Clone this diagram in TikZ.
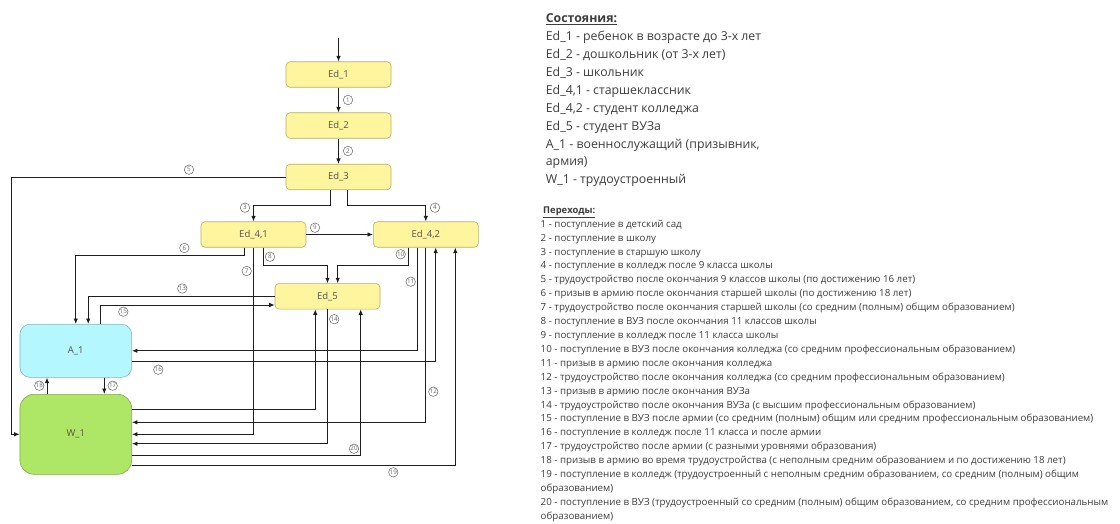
\documentclass[tikz,border=0pt]{standalone}
\usepackage{fontspec}
\setmainfont{Open Sans}
\usetikzlibrary{arrows.meta}
\definecolor{edfill}{HTML}{FFF59E}
\definecolor{edborder}{HTML}{B5AD6A}
\definecolor{afill}{HTML}{B5F7FF}
\definecolor{aborder}{HTML}{7DB6C0}
\definecolor{wfill}{HTML}{AEE765}
\definecolor{wborder}{HTML}{80A84C}
\definecolor{linec}{HTML}{1E1E1E}
\definecolor{lblc}{HTML}{666666}
\definecolor{nodetext}{HTML}{505050}
\definecolor{legtext}{HTML}{3C3C3C}
\begin{document}
\begin{tikzpicture}[x=1pt,y=-1pt,
  edbox/.style={draw=edborder, fill=edfill, rounded corners=4pt, minimum width=105pt, minimum height=25.5pt, inner sep=0pt, line width=0.6pt, font=\fontsize{9.5}{10}\selectfont, text=nodetext},
  abox/.style={draw=aborder, fill=afill, rounded corners=10pt, minimum width=111.7pt, minimum height=53pt, inner sep=0pt, line width=0.6pt, font=\fontsize{9.5}{10}\selectfont, text=nodetext},
  wbox/.style={draw=wborder, fill=wfill, rounded corners=14pt, minimum width=111.7pt, minimum height=80pt, inner sep=0pt, line width=0.6pt, font=\fontsize{9.5}{10}\selectfont, text=nodetext},
  arr/.style={draw=linec, line width=0.9pt, -{Latex[length=5.5pt,width=4.5pt]}},
  lbl/.style={circle, draw=lblc, line width=0.5pt, minimum size=9.5pt, inner sep=0pt, font=\fontsize{6.3}{6.5}\selectfont, text=lblc},
  sthead/.style={anchor=base west, inner sep=0pt, font=\fontsize{12.3}{14}\selectfont\bfseries, text=legtext},
  st/.style={anchor=base west, inner sep=0pt, font=\fontsize{12.3}{14}\selectfont, text=legtext},
  trhead/.style={anchor=base west, inner sep=0pt, font=\fontsize{9.4}{10}\selectfont\bfseries, text=legtext},
  tr/.style={anchor=base west, inner sep=0pt, font=\fontsize{9.75}{11}\selectfont, text=legtext}
]
\useasboundingbox (0,0) rectangle (1120,524);

% nodes
\node[edbox] (Ed1) at (338.5,74.5) {Ed\_1};
\node[edbox] (Ed2) at (338.5,125.5) {Ed\_2};
\node[edbox] (Ed3) at (338.5,177) {Ed\_3};
\node[edbox] (Ed41) at (253.5,234.5) {Ed\_4,1};
\node[edbox] (Ed42) at (425.8,234.5) {Ed\_4,2};
\node[edbox] (Ed5) at (327.5,296.3) {Ed\_5};
\node[abox] (A1) at (75.8,350.8) {A\_1};
\node[wbox] (W1) at (75.8,434.3) {W\_1};

% connectors
\coordinate (start) at (338.5,38);
\draw[arr] (start) -- (Ed1);
\draw[arr] (Ed1) -- (Ed2);
\draw[arr] (Ed2) -- (Ed3);
\draw[arr] ([xshift=-8.5pt]Ed3.south) |- (253.5,205.7) -- (Ed41.north);
\draw[arr] ([xshift=8.8pt]Ed3.south) |- (425.8,205.7) -- (Ed42.north);
\draw[arr] (Ed3.west) -| (11.7,434.3) -- (W1.west);
\draw[arr] (Ed41.east) -- (Ed42.west);
\draw[arr] ([xshift=-9.2pt]Ed41.south) |- (75.8,255) -- (A1.north);
\draw[arr] (Ed41.south) |- (W1.east);
\draw[arr] ([xshift=9.8pt]Ed41.south) |- (327.5,265.7) -- (Ed5.north);
\draw[arr] ([xshift=-17.1pt]Ed42.south) |- (337.7,265.7) -- ([xshift=10.2pt]Ed5.north);
\draw[arr] ([xshift=-8.3pt]Ed42.south) |- (A1.east);
\draw[arr] ([yshift=-10.9pt]A1.east) -| ([xshift=9.9pt]Ed42.south);
\draw[arr] (Ed42.south) |- ([yshift=12pt]W1.east);
\draw[arr] ([yshift=-30.7pt]W1.east) -| ([xshift=29.5pt]Ed42.south);
\draw[arr] (Ed5.west) -| ([xshift=12.4pt]A1.north);
\draw[arr] ([xshift=24.9pt]A1.north) |- ([yshift=-8.7pt]Ed5.west);
\draw[arr] (Ed5.south) |- ([yshift=-9.4pt]W1.east);
\draw[arr] ([yshift=-20.7pt]W1.east) -| ([xshift=33.2pt]Ed5.south);
\draw[arr] ([yshift=25pt]W1.east) -| ([xshift=-12.2pt]Ed5.south);
\draw[arr] ([xshift=28.5pt]A1.south) -- ([xshift=28.5pt]W1.north);
\draw[arr] ([xshift=-28.8pt]W1.north) -- ([xshift=-28.8pt]A1.south);

% labels
\node[lbl] (l1) at (348,100) {1};
\node[lbl] (l2) at (348,151) {2};
\node[lbl] (l3) at (245,207.7) {3};
\node[lbl] (l4) at (435,207.7) {4};
\node[lbl] (l5) at (189,169.7) {5};
\node[lbl] (l6) at (184.3,248) {6};
\node[lbl] (l7) at (246.7,271) {7};
\node[lbl] (l8) at (270,256.7) {8};
\node[lbl] (l9) at (315,227.7) {9};
\node[lbl] (l10) at (400.7,254.3) {10};
\node[lbl] (l11) at (410.7,281.7) {11};
\node[lbl] (l12) at (433.3,391.7) {12};
\node[lbl] (l13) at (182.3,288.5) {13};
\node[lbl] (l14) at (334.2,319.2) {14};
\node[lbl] (l15) at (123.3,311.7) {15};
\node[lbl] (l16) at (158.3,369.7) {16};
\node[lbl] (l17) at (112.7,385.7) {17};
\node[lbl] (l18) at (39.3,385.7) {18};
\node[lbl] (l19) at (393.3,472.3) {19};
\node[lbl] (l20) at (354,448.7) {20};

% legend: states
\node[sthead] (s0) at (545.7,22.7) {\underline{Состояния:}};
\node[st] (s1) at (545.7,40.7) {Ed\_1 - ребенок в возрасте до 3-х лет};
\node[st] (s2) at (545.7,58.6) {Ed\_2 - дошкольник (от 3-х лет)};
\node[st] (s3) at (545.7,76.5) {Ed\_3 - школьник};
\node[st] (s4) at (545.7,94.4) {Ed\_4,1 - старшеклассник};
\node[st] (s5) at (545.7,112.3) {Ed\_4,2 - студент колледжа};
\node[st] (s6) at (545.7,130.2) {Ed\_5 - студент ВУЗа};
\node[st] (s7) at (545.7,148.1) {A\_1 - военнослужащий (призывник,};
\node[st] (s8) at (545.7,166.0) {армия)};
\node[st] (s9) at (545.7,183.9) {W\_1 - трудоустроенный};

% legend: transitions
\node[trhead] (t0) at (543,213.5) {\underline{Переходы:}};
\node[tr] (t1) at (540.5,227.3) {1 - поступление в детский сад};
\node[tr] (t2) at (540.5,241.2) {2 - поступление в школу};
\node[tr] (t3) at (540.5,255.1) {3 - поступление в старшую школу};
\node[tr] (t4) at (540.5,269.0) {4 - поступление в колледж после 9 класса школы};
\node[tr] (t5) at (540.5,282.9) {5 - трудоустройство после окончания 9 классов школы (по достижению 16 лет)};
\node[tr] (t6) at (540.5,296.8) {6 - призыв в армию после окончания старшей школы (по достижению 18 лет)};
\node[tr] (t7) at (540.5,310.7) {7 - трудоустройство после окончания старшей школы (со средним (полным) общим образованием)};
\node[tr] (t8) at (540.5,324.6) {8 - поступление в ВУЗ после окончания 11 классов школы};
\node[tr] (t9) at (540.5,338.5) {9 - поступление в колледж после 11 класса школы};
\node[tr] (t10) at (540.5,352.4) {10 - поступление в ВУЗ после окончания колледжа (со средним профессиональным образованием)};
\node[tr] (t11) at (540.5,366.3) {11 - призыв в армию после окончания колледжа};
\node[tr] (t12) at (540.5,380.2) {12 - трудоустройство после окончания колледжа (со средним профессиональным образованием)};
\node[tr] (t13) at (540.5,394.1) {13 - призыв в армию после окончания ВУЗа};
\node[tr] (t14) at (540.5,408.0) {14 - трудоустройство после окончания ВУЗа (с высшим профессиональным образованием)};
\node[tr] (t15) at (540.5,421.9) {15 - поступление в ВУЗ после армии (со средним (полным) общим или средним профессиональным образованием)};
\node[tr] (t16) at (540.5,435.8) {16 - поступление в колледж после 11 класса и после армии};
\node[tr] (t17) at (540.5,449.7) {17 - трудоустройство после армии (с разными уровнями образования)};
\node[tr] (t18) at (540.5,463.6) {18 - призыв в армию во время трудоустройства (с неполным средним образованием и по достижению 18 лет)};
\node[tr] (t19) at (540.5,477.5) {19 - поступление в колледж (трудоустроенный с неполным средним образованием, со средним (полным) общим};
\node[tr] (t19b) at (540.5,491.4) {образованием)};
\node[tr] (t20) at (540.5,505.3) {20 - поступление в ВУЗ (трудоустроенный со средним (полным) общим образованием, со средним профессиональным};
\node[tr] (t20b) at (540.5,519.2) {образованием)};
\end{tikzpicture}
\end{document}
